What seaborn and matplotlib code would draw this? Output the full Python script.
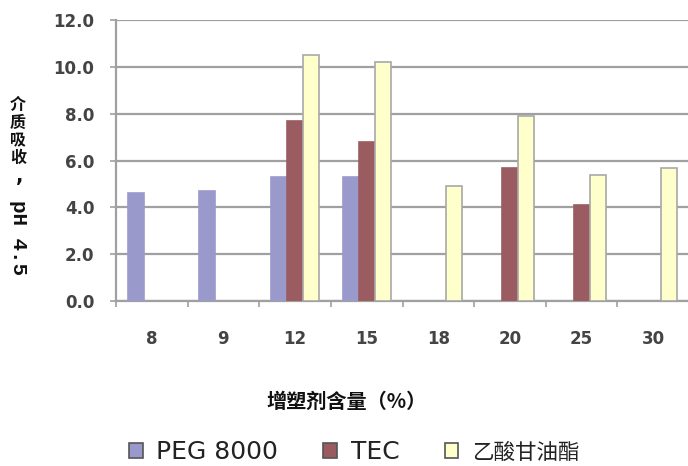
import matplotlib
matplotlib.use("Agg")
import matplotlib.pyplot as plt
import seaborn as sns
import pandas as pd
import numpy as np
from matplotlib.patches import Patch

categories = ["8", "9", "12", "15", "18", "20", "25", "30"]
series_names = ["PEG 8000", "TEC", "乙酸甘油酯"]
peg_values = [4.6, 4.7, 5.3, 5.3, None, None, None, None]
tec_values = [None, None, 7.7, 6.8, None, 5.7, 4.1, None]
tri_values = [None, None, 10.5, 10.2, 4.9, 7.9, 5.4, 5.7]
yticks = [0, 2, 4, 6, 8, 10, 12]
ytick_labels = ["0.0", "2.0", "4.0", "6.0", "8.0", "10.0", "12.0"]
colors = ["#9999cc", "#9a5c60", "#ffffcc"]
edge_colors = ["#9999cc", "#9a5c60", "#a8a8a8"]

rows = []
for name, vals in zip(series_names, [peg_values, tec_values, tri_values]):
    for c, v in zip(categories, vals):
        if v is not None:
            rows.append({"cat": c, "series": name, "val": v})
df = pd.DataFrame(rows)

sns.set_theme(style="white")
plt.rcParams["font.family"] = ["DejaVu Sans", "Noto Sans CJK SC"]

W, H = 688, 466
fig = plt.figure(figsize=(W / 100, H / 100), dpi=100)
L, R, T, B = 116, 689, 20, 301
ax = fig.add_axes([L / W, 1 - B / H, (R - L) / W, (B - T) / H])

sns.barplot(data=df, x="cat", y="val", hue="series", order=categories,
            hue_order=series_names, palette=colors, width=0.67,
            saturation=1, dodge=True, ax=ax, legend=False, linewidth=1.2)
for cont, ec in zip(ax.containers, edge_colors):
    for p in cont:
        p.set_edgecolor(ec)
        p.set_zorder(3)

ax.set_ylim(0, 12)
ax.set_xlim(-0.5, len(categories) - 0.5)
ax.set_yticks(yticks)
ax.set_yticklabels(ytick_labels)
ax.yaxis.grid(True, color="#a0a0a0", linewidth=1.6, zorder=0)
ax.set_axisbelow(True)
for s in ["top", "right"]:
    ax.spines[s].set_visible(False)
for s in ["left", "bottom"]:
    ax.spines[s].set_color("#a0a0a0")
    ax.spines[s].set_linewidth(1.6)

ax.set_xticks(np.arange(-0.5, len(categories) + 0.5, 1.0), minor=True)
ax.tick_params(axis="x", which="major", length=0, pad=21, labelsize=12,
               labelcolor="#444444")
ax.tick_params(axis="x", which="minor", length=4, width=1.2, color="#a0a0a0",
               direction="out", bottom=True)
ax.tick_params(axis="y", which="major", length=4, width=1.2, color="#a0a0a0",
               direction="out", left=True, pad=11.5, labelsize=12,
               labelcolor="#444444")
for lab in ax.get_xticklabels() + ax.get_yticklabels():
    lab.set_fontweight("bold")
ax.set_xlabel("")
ax.set_ylabel("")

def fx(px):
    return px / W

def fy(py):
    return 1 - py / H

cjk = ["Noto Sans CJK SC", "DejaVu Sans"]
for ch, cy in zip(["介", "质", "吸", "收"], [105, 122.5, 140, 157.5]):
    fig.text(fx(18), fy(cy), ch, family=cjk, fontweight="bold", fontsize=11.5,
             ha="center", va="center", color="#111111")
fig.text(fx(20), fy(176), ",", family=["DejaVu Sans"], fontweight="bold",
         fontsize=14, ha="center", va="center", color="#111111")
fig.text(fx(18), fy(237), "pH 4.5", family=["Liberation Mono"], fontweight="bold",
         fontsize=15, rotation=-90, ha="center", va="center", color="#111111")

fig.text(fx(347), fy(401), "增塑剂含量（%）", family=cjk, fontweight="bold",
         fontsize=14.5, ha="center", va="center", color="#111111")

handles = [Patch(facecolor=c, edgecolor="#555555", linewidth=1.2) for c in colors]
leg = fig.legend(handles, series_names, loc="center left",
                 bbox_to_anchor=(fx(119), fy(452)),
                 ncol=3, frameon=False, handlelength=0.55, handleheight=0.55,
                 handletextpad=0.55, columnspacing=1.8, borderaxespad=0,
                 prop={"family": ["DejaVu Sans", "Noto Sans CJK SC"], "size": 18})
for t in leg.get_texts():
    t.set_color("#222222")
leg.get_texts()[2].set_fontsize(15.5)

fig.savefig("out.png", dpi=100)
